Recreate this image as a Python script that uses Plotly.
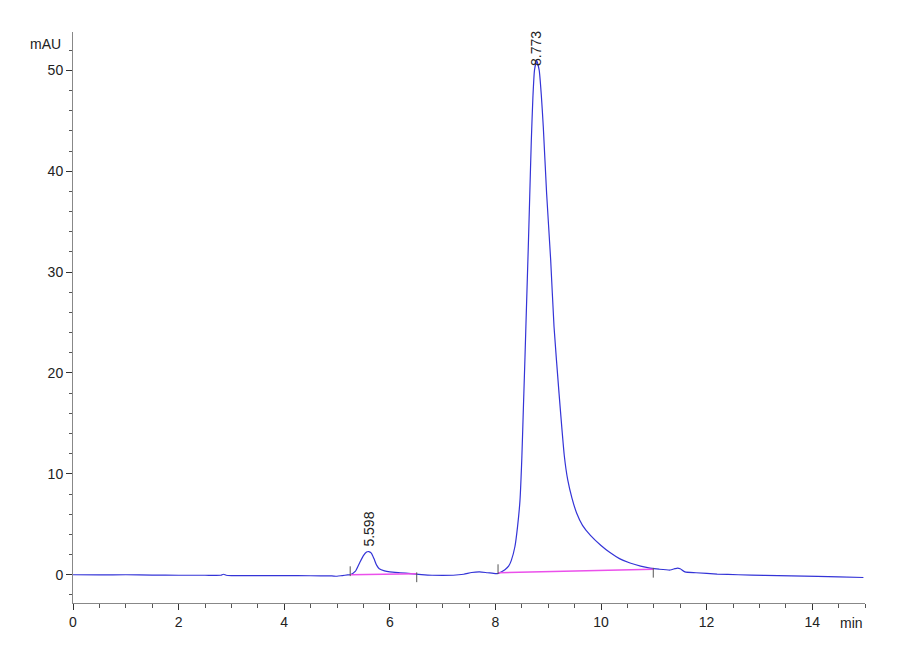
import plotly.graph_objects as go

# chromatogram trace (min, mAU)
time_min = [0.0, 0.5, 1.0, 1.5, 2.0, 2.5, 2.8, 2.85, 2.9, 3.0, 3.5, 4.0, 4.5, 4.9, 5.0, 5.1, 5.2,
            5.25, 5.35, 5.43, 5.5, 5.56, 5.6, 5.65, 5.7, 5.75, 5.8, 5.9, 6.0, 6.2, 6.4, 6.6, 6.8,
            7.0, 7.2, 7.4, 7.55, 7.7, 7.85, 8.0, 8.05,
            8.1, 8.18, 8.25, 8.3, 8.37, 8.42, 8.466, 8.5, 8.53, 8.56, 8.59, 8.62, 8.65, 8.68,
            8.71, 8.74, 8.78, 8.83, 8.87, 8.907, 8.97, 9.047, 9.11, 9.205, 9.305, 9.37, 9.45,
            9.54, 9.65, 9.8, 10.0, 10.17, 10.35, 10.55, 10.75, 10.93, 11.1, 11.31, 11.4, 11.45,
            11.5, 11.59, 11.8, 12.2, 12.6, 13.1, 13.6, 14.1, 14.5, 14.97]
signal_mau = [0.0, -0.02, 0.0, -0.03, -0.05, -0.05, -0.05, 0.05, -0.05, -0.08, -0.08, -0.08, -0.1, -0.12, -0.15, -0.08, -0.02,
              0.0, 0.35, 1.2, 1.9, 2.25, 2.3, 2.15, 1.6, 0.95, 0.6, 0.38, 0.28, 0.2, 0.12, 0.02, -0.05,
              -0.06, -0.05, 0.05, 0.22, 0.28, 0.2, 0.12, 0.12,
              0.25, 0.5, 0.85, 1.4, 2.8, 4.8, 7.4, 11.5, 16.5, 21.5, 26.8, 32.0, 37.5, 43.0,
              47.3, 50.0, 51.0, 50.0, 47.5, 44.4, 37.8, 31.2, 24.6, 18.0, 11.8, 9.4, 7.6,
              6.1, 4.9, 3.9, 2.9, 2.2, 1.6, 1.16, 0.85, 0.66, 0.55, 0.47, 0.6, 0.66,
              0.6, 0.28, 0.2, 0.07, 0.0, -0.07, -0.12, -0.17, -0.22, -0.27]

# integrated peaks
peak_times = [5.598, 8.773]
peak_heights = [2.3, 51.0]
peak_labels = ["5.598", "8.773"]

# integration baselines (start, end) per peak
base_x = [[5.25, 6.51], [8.05, 10.99]]
base_y = [[0.0, 0.1], [0.2, 0.55]]

fig = go.Figure()

fig.add_trace(go.Scatter(
    x=time_min, y=signal_mau, mode="lines",
    line=dict(color="rgb(52,52,215)", width=1.2, shape="spline", smoothing=0.5),
    hoverinfo="skip", showlegend=False,
))

for bx, by in zip(base_x, base_y):
    fig.add_trace(go.Scatter(
        x=bx, y=by, mode="lines",
        line=dict(color="rgb(235,80,235)", width=1.5),
        showlegend=False, hoverinfo="skip",
    ))
    # small start / end markers of the integration window
    fig.add_trace(go.Scatter(
        x=bx, y=[by[0] + 0.35, by[1] - 0.35], mode="markers",
        marker=dict(symbol="line-ns-open", size=7, color="#555", line=dict(color="#555", width=1)),
        showlegend=False, hoverinfo="skip",
    ))

for t, h, lab in zip(peak_times, peak_heights, peak_labels):
    fig.add_annotation(
        x=t, y=h, text=lab, textangle=-90, showarrow=False,
        xanchor="center", yanchor="bottom",
        yshift=3 if h < 10 else -8,
        font=dict(family="Liberation Sans, Arial", size=14, color="#222"),
    )

fig.add_annotation(
    x=1, y=0, xref="paper", yref="paper", text="min", showarrow=False,
    xanchor="right", yanchor="top", yshift=-10,
    font=dict(family="Liberation Sans Narrow, Liberation Sans, Arial", size=14, color="#222"),
)
fig.add_annotation(
    x=0, y=1, xref="paper", yref="paper", text="mAU", showarrow=False,
    xanchor="right", yanchor="top", xshift=-10, yshift=-2,
    font=dict(family="Liberation Sans Narrow, Liberation Sans, Arial", size=14, color="#222"),
)

axis_font = dict(family="Liberation Sans Narrow, Liberation Sans, Arial", size=14, color="#222")

fig.update_xaxes(
    range=[0, 15], tickvals=[0, 2, 4, 6, 8, 10, 12, 14],
    showline=True, linecolor="#888", linewidth=1, mirror=False,
    ticks="outside", ticklen=6, tickcolor="#333", tickwidth=1,
    minor=dict(dtick=0.5, ticks="outside", ticklen=4, tickcolor="#555"),
    showgrid=False, zeroline=False, tickfont=axis_font,
)
fig.update_yaxes(
    range=[-2.8, 53.8], tickvals=[0, 10, 20, 30, 40, 50],
    showline=True, linecolor="#888", linewidth=1,
    ticks="outside", ticklen=6, tickcolor="#333", tickwidth=1,
    minor=dict(dtick=2, ticks="outside", ticklen=3, tickcolor="#555"),
    showgrid=False, zeroline=False, tickfont=axis_font,
)

fig.update_layout(
    width=900, height=660,
    margin=dict(l=65, r=43, t=24, b=65),
    plot_bgcolor="white", paper_bgcolor="white",
)

fig.write_html("out.html")
